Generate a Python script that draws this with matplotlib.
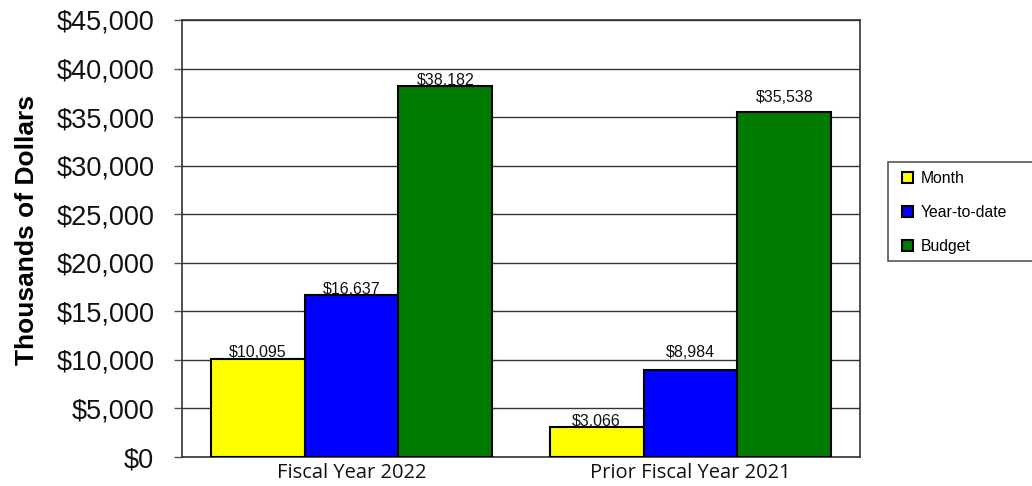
import matplotlib.pyplot as plt
import numpy as np
from matplotlib.patches import Rectangle
from matplotlib.ticker import FuncFormatter

categories = ["Fiscal Year 2022", "Prior Fiscal Year 2021"]
series_names = ["Month", "Year-to-date", "Budget"]
month = [10095, 3066]
year_to_date = [16637, 8984]
budget = [38182, 35538]

colors = ["#ffff00", "#0000ff", "#007a00"]
# vertical gap (points) between bar top and its value label
label_pad = [[-1, -1], [-1, 7], [-1, 5]]

plt.rcParams["font.family"] = ["Liberation Sans", "DejaVu Sans"]

W, H = 1032, 486
fig = plt.figure(figsize=(W / 100, H / 100), dpi=100)
ax = fig.add_axes([182 / W, 29 / H, 678 / W, 437 / H])

x = np.arange(len(categories))
width = 0.277
for i, (name, vals) in enumerate(zip(series_names, [month, year_to_date, budget])):
    pos = x + (i - 1) * width
    bars = ax.bar(pos, vals, width, color=colors[i], edgecolor="black",
                  linewidth=1.5, label=name, zorder=3)
    for b, v, pad in zip(bars, vals, label_pad[i]):
        ax.annotate(f"${v:,}", (b.get_x() + b.get_width() / 2, v),
                    xytext=(0, pad), textcoords="offset points",
                    ha="center", va="bottom", fontsize=11.5, color="#111111")

ax.set_xlim(-0.5, 1.5)
ax.set_ylim(0, 45000)
ax.set_yticks(np.arange(0, 45001, 5000))
ax.yaxis.set_major_formatter(FuncFormatter(lambda v, p: f"${v:,.0f}"))
ax.tick_params(axis="y", labelsize=19.5, length=6, width=1, color="#555555",
               pad=14, labelcolor="#111111")
ax.set_xticks(x)
ax.set_xticklabels(categories, fontsize=14.5, family=["Open Sans", "DejaVu Sans"],
                   color="#111111")
ax.tick_params(axis="x", length=0, pad=4)
ax.grid(axis="y", color="#333333", linewidth=1, zorder=0)
for s in ax.spines.values():
    s.set_color("#333333")
    s.set_linewidth(1.2)

ax.set_ylabel("Thousands of Dollars", fontsize=19, fontweight="bold")
ax.yaxis.set_label_coords(-143 / 678, 0.52)

# legend box runs off the right edge of the figure
fig.patches.append(Rectangle((888 / W, 1 - 261 / H), 160 / W, 99 / H,
                             transform=fig.transFigure, facecolor="white",
                             edgecolor="#555555", linewidth=1.2, zorder=1))
leg = fig.legend(loc="upper left", bbox_to_anchor=(902 / W, 1 - 171 / H),
                 fontsize=11.3, frameon=False,
                 handlelength=0.7, handleheight=0.7, labelspacing=1.2,
                 borderpad=0, handletextpad=0.5, borderaxespad=0)
leg.set_zorder(2)

fig.savefig("out.png", dpi=100)
